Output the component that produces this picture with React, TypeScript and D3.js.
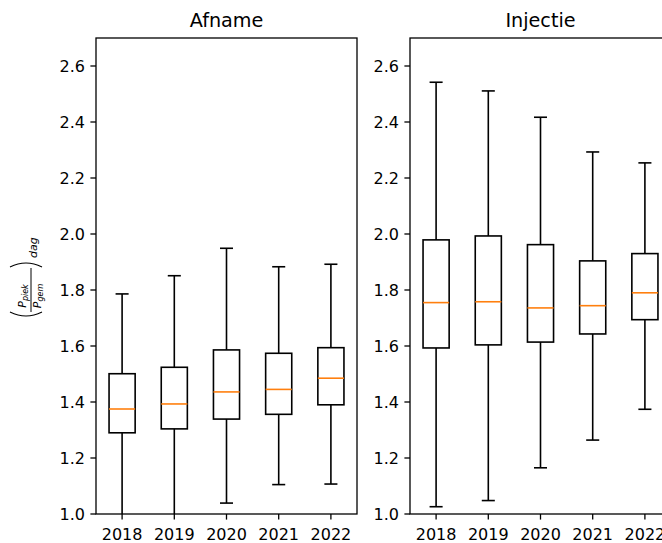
import React, { useEffect, useRef } from "react";
import * as d3 from "d3";

// years on the x axis of both panels
const years = ["2018", "2019", "2020", "2021", "2022"];

// Afname box statistics
const afnameWhisLo = [0.97, 0.98, 1.039, 1.105, 1.107];
const afnameQ1 = [1.29, 1.304, 1.339, 1.356, 1.39];
const afnameMed = [1.375, 1.393, 1.436, 1.445, 1.485];
const afnameQ3 = [1.501, 1.524, 1.586, 1.574, 1.594];
const afnameWhisHi = [1.786, 1.851, 1.949, 1.883, 1.892];

// Injectie box statistics
const injectieWhisLo = [1.026, 1.048, 1.165, 1.264, 1.374];
const injectieQ1 = [1.593, 1.604, 1.614, 1.643, 1.694];
const injectieMed = [1.755, 1.758, 1.736, 1.744, 1.79];
const injectieQ3 = [1.979, 1.993, 1.962, 1.904, 1.93];
const injectieWhisHi = [2.542, 2.511, 2.417, 2.293, 2.254];

const yTicks = [1.0, 1.2, 1.4, 1.6, 1.8, 2.0, 2.2, 2.4, 2.6];

const font = "DejaVu Sans, sans-serif";

export default function App() {
  const ref = useRef<SVGSVGElement>(null);

  useEffect(() => {
    const svg = d3.select(ref.current);
    svg.selectAll("*").remove();

    const top = 38;
    const bottom = 514;
    const panelW = 261;

    const y = d3.scaleLinear().domain([1.0, 2.7]).range([bottom, top]);

    const panels = [
      { title: "Afname", left: 96, lo: afnameWhisLo, q1: afnameQ1, med: afnameMed, q3: afnameQ3, hi: afnameWhisHi },
      { title: "Injectie", left: 410, lo: injectieWhisLo, q1: injectieQ1, med: injectieMed, q3: injectieQ3, hi: injectieWhisHi },
    ];

    panels.forEach((p, pi) => {
      const x = d3.scaleLinear().domain([0.5, 5.5]).range([p.left, p.left + panelW]);
      const boxes = years.map((yr, i) => ({
        yr, pos: i + 1, lo: p.lo[i], q1: p.q1[i], med: p.med[i], q3: p.q3[i], hi: p.hi[i],
      }));

      // clip so whiskers below 1.0 are cut at the axes
      const clipId = "clip" + pi;
      svg.append("clipPath").attr("id", clipId)
        .append("rect")
        .attr("x", p.left).attr("y", top)
        .attr("width", panelW).attr("height", bottom - top);

      const g = svg.append("g").attr("clip-path", `url(#${clipId})`);
      const lw = 1.6;

      boxes.forEach(b => {
        const cx = x(b.pos);
        const half = (x(b.pos + 0.25) - x(b.pos));
        const capHalf = half / 2;
        // whiskers
        g.append("line").attr("x1", cx).attr("x2", cx).attr("y1", y(b.q1)).attr("y2", y(b.lo))
          .attr("stroke", "black").attr("stroke-width", lw);
        g.append("line").attr("x1", cx).attr("x2", cx).attr("y1", y(b.q3)).attr("y2", y(b.hi))
          .attr("stroke", "black").attr("stroke-width", lw);
        // caps
        g.append("line").attr("x1", cx - capHalf).attr("x2", cx + capHalf).attr("y1", y(b.lo)).attr("y2", y(b.lo))
          .attr("stroke", "black").attr("stroke-width", lw);
        g.append("line").attr("x1", cx - capHalf).attr("x2", cx + capHalf).attr("y1", y(b.hi)).attr("y2", y(b.hi))
          .attr("stroke", "black").attr("stroke-width", lw);
        // box
        g.append("rect")
          .attr("x", cx - half).attr("y", y(b.q3))
          .attr("width", half * 2).attr("height", y(b.q1) - y(b.q3))
          .attr("fill", "none").attr("stroke", "black").attr("stroke-width", lw);
        // median
        g.append("line").attr("x1", cx - half).attr("x2", cx + half).attr("y1", y(b.med)).attr("y2", y(b.med))
          .attr("stroke", "#ff7f0e").attr("stroke-width", lw);
      });

      // frame
      svg.append("rect")
        .attr("x", p.left).attr("y", top)
        .attr("width", panelW).attr("height", bottom - top)
        .attr("fill", "none").attr("stroke", "black").attr("stroke-width", 1.3);

      // y ticks
      yTicks.forEach(t => {
        svg.append("line").attr("x1", p.left - 5.6).attr("x2", p.left).attr("y1", y(t)).attr("y2", y(t))
          .attr("stroke", "black").attr("stroke-width", 1.3);
        svg.append("text")
          .attr("x", p.left - 11).attr("y", y(t)).attr("dy", "0.36em")
          .attr("text-anchor", "end")
          .style("font-family", font).style("font-size", "16px").attr("fill", "#000")
          .text(t.toFixed(1));
      });

      // x ticks
      boxes.forEach(b => {
        svg.append("line").attr("x1", x(b.pos)).attr("x2", x(b.pos)).attr("y1", bottom).attr("y2", bottom + 5.6)
          .attr("stroke", "black").attr("stroke-width", 1.3);
        svg.append("text")
          .attr("x", x(b.pos)).attr("y", 539.5)
          .attr("text-anchor", "middle")
          .style("font-family", font).style("font-size", "16px").attr("fill", "#000")
          .text(b.yr);
      });

      // title
      svg.append("text")
        .attr("x", p.left + panelW / 2).attr("y", 27)
        .attr("text-anchor", "middle")
        .style("font-family", font).style("font-size", "19.2px").attr("fill", "#000")
        .text(p.title);
    });

    // y label: (P_piek / P_gem)_dag, rotated
    const lab = svg.append("g").attr("transform", "translate(31,276) rotate(-90)")
      .style("font-family", font).attr("fill", "#000");

    lab.append("path").attr("d", "M -36 -21 Q -44 -5 -36 11")
      .attr("fill", "none").attr("stroke", "black").attr("stroke-width", 1.1);
    lab.append("path").attr("d", "M 9 -21 Q 17 -5 9 11")
      .attr("fill", "none").attr("stroke", "black").attr("stroke-width", 1.1);
    lab.append("line").attr("x1", -36).attr("x2", 8).attr("y1", 0).attr("y2", 0)
      .attr("stroke", "black").attr("stroke-width", 1);

    const num = lab.append("text").attr("x", -20).attr("y", -5).attr("text-anchor", "middle");
    num.append("tspan").style("font-style", "italic").style("font-size", "11px").text("P");
    num.append("tspan").style("font-style", "italic").style("font-size", "8px").attr("dy", 2).text("piek");

    const den = lab.append("text").attr("x", -20).attr("y", 10).attr("text-anchor", "middle");
    den.append("tspan").style("font-style", "italic").style("font-size", "11px").text("P");
    den.append("tspan").style("font-style", "italic").style("font-size", "8px").attr("dy", 2).text("gem");

    lab.append("text").attr("x", 18).attr("y", 6)
      .style("font-style", "italic").style("font-size", "11px").text("dag");
  }, []);

  return (
    <svg ref={ref} width={662} height={543}
      style={{ position: "absolute", left: 0, top: 0, background: "white" }} />
  );
}
